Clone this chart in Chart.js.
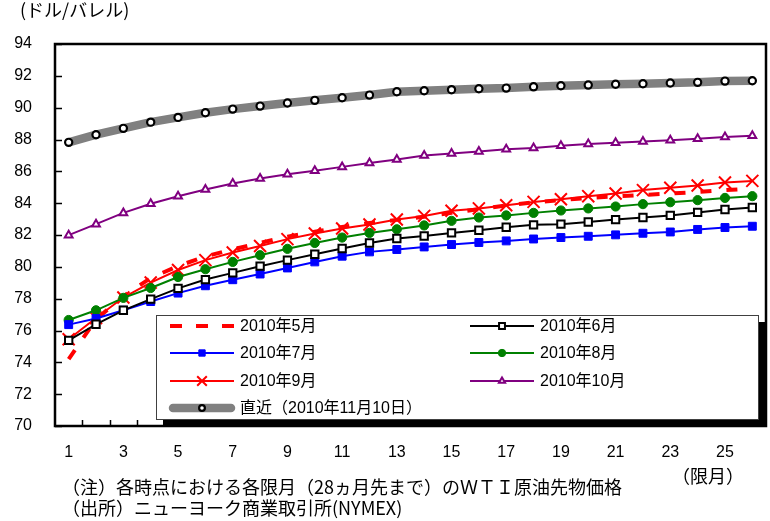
<!DOCTYPE html>
<html>
<head>
<meta charset="utf-8">
<script src="https://cdn.jsdelivr.net/npm/chart.js@4.4.0/dist/chart.umd.min.js"></script>
<style>
body{margin:0;background:#fff;}
#wrap{position:relative;width:770px;height:521px;}
.txt{position:absolute;font-family:"Noto Sans CJK JP","Liberation Sans",sans-serif;font-size:18px;line-height:1;color:#000;white-space:nowrap;}
</style>
</head>
<body>
<div id="wrap">
<canvas id="futures" width="770" height="521"></canvas>
<div class="txt" style="left:20px;top:0px">(ドル/バレル)</div>
<div class="txt" style="left:672px;top:466px">（限月）</div>
<div class="txt" style="left:62px;top:477px">（注）各時点における各限月（28ヵ月先まで）のＷＴＩ原油先物価格</div>
<div class="txt" style="left:62px;top:498px">（出所）ニューヨーク商業取引所(NYMEX)</div>
</div>
<script>
// contract months (限月)
var months = ['1','2','3','4','5','6','7','8','9','10','11','12','13','14','15','16','17','18','19','20','21','22','23','24','25','26'];

// WTI futures curves, $/bbl
var may2010 = [74.2, 76.7, 78.15, 79.3, 80.05, 80.65, 81.1, 81.5, 81.9, 82.2, 82.5, 82.75, 82.95, 83.15, 83.4, 83.62, 83.85, 84.05, 84.2, 84.33, 84.43, 84.52, 84.6, 84.7, 84.82, 84.92];
var jun2010 = [75.38, 76.39, 77.27, 77.97, 78.65, 79.2, 79.62, 80.04, 80.42, 80.79, 81.15, 81.5, 81.78, 81.94, 82.13, 82.3, 82.49, 82.64, 82.68, 82.82, 82.97, 83.1, 83.23, 83.42, 83.6, 83.73];
var jul2010 = [76.37, 76.75, 77.27, 77.82, 78.35, 78.81, 79.19, 79.55, 79.93, 80.31, 80.67, 80.94, 81.09, 81.25, 81.4, 81.53, 81.63, 81.75, 81.84, 81.92, 82.01, 82.11, 82.19, 82.35, 82.47, 82.55];
var aug2010 = [76.66, 77.27, 78.05, 78.67, 79.36, 79.85, 80.31, 80.73, 81.13, 81.5, 81.84, 82.13, 82.36, 82.6, 82.89, 83.1, 83.23, 83.39, 83.54, 83.67, 83.79, 83.94, 84.06, 84.19, 84.33, 84.44];
var sep2010 = [75.45, 76.79, 78.07, 79.01, 79.8, 80.42, 80.9, 81.31, 81.74, 82.09, 82.41, 82.66, 82.97, 83.2, 83.52, 83.67, 83.87, 84.08, 84.25, 84.44, 84.61, 84.82, 84.97, 85.11, 85.3, 85.4];
var oct2010 = [81.99, 82.68, 83.39, 83.96, 84.44, 84.86, 85.24, 85.55, 85.82, 86.03, 86.28, 86.53, 86.75, 87.0, 87.12, 87.25, 87.38, 87.46, 87.6, 87.71, 87.79, 87.88, 87.96, 88.04, 88.15, 88.23];
var latest = [87.82, 88.3, 88.7, 89.09, 89.39, 89.68, 89.91, 90.1, 90.29, 90.46, 90.62, 90.79, 91.0, 91.06, 91.13, 91.19, 91.23, 91.31, 91.38, 91.42, 91.47, 91.5, 91.55, 91.59, 91.67, 91.69];

var seriesNames = ['2010年5月', '2010年6月', '2010年7月', '2010年8月', '2010年9月', '2010年10月', '直近（2010年11月10日）'];

var yMin = 70, yMax = 94, yStep = 2;

var fontTicks = {family: '"Liberation Sans", Arial, sans-serif', size: 16};

function line(label, data, color, extra){
	var ds = {
		label: label,
		data: data,
		borderColor: color,
		backgroundColor: color,
		borderWidth: 2,
		tension: 0,
		pointRadius: 0,
		pointBorderColor: color,
		pointBackgroundColor: color,
		pointBorderWidth: 1
	};
	for (var k in extra) ds[k] = extra[k];
	return ds;
}

var datasets = [
	line(seriesNames[0], may2010, '#FF0000', {borderWidth: 4, borderDash: [11, 15], order: 1}),
	line(seriesNames[1], jun2010, '#000000', {pointStyle: 'rect', pointRadius: 5.2, pointBackgroundColor: '#FFFFFF', pointBorderWidth: 2}),
	line(seriesNames[2], jul2010, '#0000FF', {pointStyle: 'rect', pointRadius: 5.6}),
	line(seriesNames[3], aug2010, '#008000', {pointStyle: 'circle', pointRadius: 4.6}),
	line(seriesNames[4], sep2010, '#FF0000', {pointStyle: 'crossRot', pointRadius: 8.5, pointBorderWidth: 2}),
	line(seriesNames[5], oct2010, '#800080', {pointStyle: 'triangle', pointRadius: 4.5, pointBackgroundColor: '#FFFFFF', pointBorderWidth: 2}),
	line(seriesNames[6], latest, '#808080', {borderWidth: 8.5, pointStyle: 'circle', pointRadius: 3.6, pointBorderColor: '#000000', pointBackgroundColor: '#FFFFFF', pointBorderWidth: 2.2})
];

// inward tick marks
var frame = {
	id: 'frame',
	afterDatasetsDraw: function(chart){
		var ctx = chart.ctx, a = chart.chartArea;
		var xs = chart.scales.x, ys = chart.scales.y;
		ctx.save();
		ctx.strokeStyle = '#000';
		ctx.lineWidth = 1.5;
		ctx.beginPath();
		ys.ticks.forEach(function(t){
			var y = Math.round(ys.getPixelForValue(t.value)) + 0.5;
			ctx.moveTo(a.left, y); ctx.lineTo(a.left + 7, y);
		});
		for (var i = 1; i < months.length; i++){
			var x = Math.round((xs.getPixelForValue(i - 1) + xs.getPixelForValue(i)) / 2) + 0.5;
			ctx.moveTo(x, a.bottom); ctx.lineTo(x, a.bottom - 6);
		}
		ctx.stroke();
		ctx.restore();
	}
};

// legend box inside the plot, with shadow, then the plot frame
var legendBox = {
	id: 'legendBox',
	afterDraw: function(chart){
		var ctx = chart.ctx, a = chart.chartArea;
		var x0 = 156, y0 = 315, w = 602, h = 104, off = 7;
		ctx.save();
		ctx.fillStyle = '#000000';
		ctx.fillRect(x0 + off, y0 + off, Math.min(w, a.right - x0 - off), Math.min(h, a.bottom - y0 - off));
		ctx.fillStyle = '#ffffff';
		ctx.fillRect(x0, y0, w, h);
		ctx.strokeStyle = '#404040';
		ctx.lineWidth = 1;
		ctx.strokeRect(x0 + 0.5, y0 + 0.5, w, h);

		var colX = [170, 470], rowY = [326, 353, 381, 408], len = 64;
		chart.data.datasets.forEach(function(ds, i){
			var sx = colX[i % 2], sy = rowY[Math.floor(i / 2)];
			ctx.save();
			ctx.strokeStyle = ds.borderColor;
			ctx.lineWidth = ds.borderWidth;
			if (ds.borderDash) ctx.setLineDash([12, 14]);
			ctx.lineCap = ds.borderWidth > 6 ? 'round' : 'butt';
			ctx.beginPath();
			if (ds.borderWidth > 6){ ctx.moveTo(sx + 3, sy); ctx.lineTo(sx + len - 3, sy); }
			else { ctx.moveTo(sx, sy); ctx.lineTo(sx + len, sy); }
			ctx.stroke();
			ctx.setLineDash([]);
			if (ds.pointRadius > 0){
				ctx.fillStyle = ds.pointBackgroundColor;
				ctx.strokeStyle = ds.pointBorderColor;
				ctx.lineWidth = ds.pointBorderWidth;
				Chart.helpers.drawPoint(ctx, {pointStyle: ds.pointStyle, radius: ds.pointRadius * 0.8, borderWidth: ds.pointBorderWidth, rotation: 0}, sx + len / 2, sy);
			}
			ctx.restore();
			ctx.fillStyle = '#000';
			ctx.font = '16px "Liberation Sans", "Noto Sans CJK JP", sans-serif';
			ctx.textBaseline = 'middle';
			ctx.fillText(ds.label, sx + len + 6, sy + 1);
		});

		ctx.strokeStyle = '#000';
		ctx.lineWidth = 2.5;
		ctx.strokeRect(a.left, a.top, a.right - a.left, a.bottom - a.top);
		ctx.restore();
	}
};

var chart = new Chart(document.getElementById('futures'), {
	type: 'line',
	data: {labels: months, datasets: datasets},
	options: {
		responsive: false,
		animation: false,
		layout: {autoPadding: false, padding: {left: 0, right: 4, top: 44, bottom: 55}},
		plugins: {legend: {display: false}, tooltip: {enabled: false}},
		scales: {
			x: {
				type: 'category',
				offset: true,
				grid: {display: false, drawTicks: false},
				border: {display: false},
				ticks: {
					autoSkip: false, maxRotation: 0, minRotation: 0, padding: 17,
					color: '#000', font: fontTicks,
					callback: function(v, i){ return i % 2 === 0 ? this.getLabelForValue(v) : ''; }
				},
				afterFit: function(s){ s.height = 40; }
			},
			y: {
				min: yMin, max: yMax,
				grid: {display: false, drawTicks: false},
				border: {display: false},
				ticks: {stepSize: yStep, padding: 23, color: '#000', font: fontTicks},
				afterFit: function(s){ s.width = 55; }
			}
		}
	},
	plugins: [frame, legendBox]
});
</script>
</body>
</html>
